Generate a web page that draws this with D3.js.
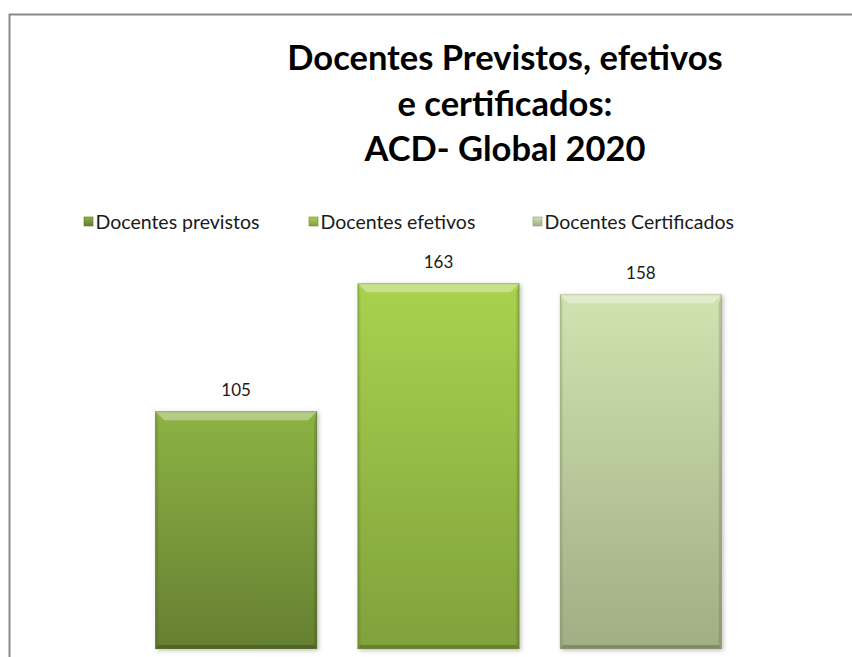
<!DOCTYPE html>
<meta charset="utf-8">
<style>
body { margin: 0; background: #fff; }
svg { display: block; }
.title { font-family: Lato, "Open Sans", sans-serif; font-weight: bold; font-size: 34.5px; fill: #000; }
.legend text { font-family: Lato, "Open Sans", sans-serif; font-size: 19.5px; fill: #1a1a1a; }
.label { font-family: Lato, "Open Sans", sans-serif; font-size: 17px; fill: #1a1a1a; }
</style>
<svg width="852" height="657"></svg>
<script src="https://cdn.jsdelivr.net/npm/d3@7"></script>
<script>

// chart data
var categories = ["Docentes previstos", "Docentes efetivos", "Docentes Certificados"];
var values = [105, 163, 158];
var titleLines = ["Docentes Previstos, efetivos", "e certificados:", "ACD- Global 2020"];

// gradient colours for each bar (top, bottom)
var palette = [
  {top: "#8db243", bottom: "#657f32", edge: "#5a762c"},
  {top: "#a9d24f", bottom: "#80a13c", edge: "#6f8c34"},
  {top: "#d1e3b0", bottom: "#a0ae84", edge: "#8e9b74"}
];

var svg = d3.select("svg"),
    width = +svg.attr("width"),
    height = +svg.attr("height");

// frame (only top and left edges show in the crop)
svg.append("path")
    .attr("d", "M9.5,657 L9.5,14.5 L852,14.5")
    .attr("fill", "none")
    .attr("stroke", "#898989")
    .attr("stroke-width", 2);

// title
svg.append("text")
    .attr("class", "title")
    .attr("text-anchor", "middle")
    .selectAll("tspan")
    .data(titleLines)
    .enter().append("tspan")
      .attr("x", 505)
      .attr("y", function(d, i) { return 70 + i * 45.5; })
      .text(function(d) { return d; });

var defs = svg.append("defs");

palette.forEach(function(p, i) {
  var g = defs.append("linearGradient")
      .attr("id", "grad" + i)
      .attr("x1", 0).attr("y1", 0).attr("x2", 0).attr("y2", 1);
  g.append("stop").attr("offset", "0%").attr("stop-color", p.top);
  g.append("stop").attr("offset", "100%").attr("stop-color", p.bottom);
});

var shadow = defs.append("filter").attr("id", "shadow")
    .attr("x", "-10%").attr("y", "-10%").attr("width", "130%").attr("height", "130%");
shadow.append("feDropShadow")
    .attr("dx", 1.5).attr("dy", 1.5)
    .attr("stdDeviation", 2)
    .attr("flood-color", "#000")
    .attr("flood-opacity", 0.25);

// scales
var x = d3.scaleBand()
    .domain(categories)
    .range([135, 742])
    .paddingInner(0.2)
    .paddingOuter(0.1);

var plotBottom = 649;
var y = d3.scaleLinear()
    .domain([0, 180])
    .range([643, 245.7]);

// legend
var legend = svg.append("g").attr("class", "legend");
var legendX = [84, 309, 533];
categories.forEach(function(c, i) {
  var item = legend.append("g").attr("transform", "translate(" + legendX[i] + ",217)");
  item.append("rect")
      .attr("width", 9).attr("height", 9)
      .attr("fill", "url(#grad" + i + ")")
      .attr("stroke", palette[i].edge)
      .attr("stroke-width", 0.6);
  item.append("text")
      .attr("x", 11.5)
      .attr("y", 11.5)
      .text(c);
});

// bars with a bevelled look
var bars = svg.append("g").selectAll("g")
    .data(categories)
    .enter().append("g")
      .attr("filter", "url(#shadow)");

bars.each(function(c, i) {
  var gbar = d3.select(this);
  var bx = x(c), bw = x.bandwidth(),
      by = y(values[i]), bh = plotBottom - by,
      b = 9, bb = 4, bs = 3;

  gbar.append("rect")
      .attr("x", bx).attr("y", by)
      .attr("width", bw).attr("height", bh)
      .attr("fill", "url(#grad" + i + ")");

  // top bevel
  gbar.append("path")
      .attr("d", "M" + bx + "," + by + "L" + (bx + bw) + "," + by +
                 "L" + (bx + bw - b) + "," + (by + b) + "L" + (bx + b) + "," + (by + b) + "Z")
      .attr("fill", "#ffffff").attr("fill-opacity", 0.35);
  gbar.append("line")
      .attr("x1", bx + 1).attr("x2", bx + bw - 1)
      .attr("y1", by + 0.5).attr("y2", by + 0.5)
      .attr("stroke", "#ffffff").attr("stroke-opacity", 0.3);

  // side bevels
  gbar.append("path")
      .attr("d", "M" + bx + "," + by + "L" + (bx + bs) + "," + (by + b) +
                 "L" + (bx + bs) + "," + (by + bh - bb) + "L" + bx + "," + (by + bh) + "Z")
      .attr("fill", "#000").attr("fill-opacity", 0.08);
  gbar.append("path")
      .attr("d", "M" + (bx + bw) + "," + by + "L" + (bx + bw - bs) + "," + (by + b) +
                 "L" + (bx + bw - bs) + "," + (by + bh - bb) + "L" + (bx + bw) + "," + (by + bh) + "Z")
      .attr("fill", "#000").attr("fill-opacity", 0.12);

  // bottom bevel
  gbar.append("path")
      .attr("d", "M" + bx + "," + (by + bh) + "L" + (bx + bw) + "," + (by + bh) +
                 "L" + (bx + bw - bs) + "," + (by + bh - bb) + "L" + (bx + bs) + "," + (by + bh - bb) + "Z")
      .attr("fill", "#000").attr("fill-opacity", 0.2);

  gbar.append("rect")
      .attr("x", bx + 0.5).attr("y", by + 0.5)
      .attr("width", bw - 1).attr("height", bh - 1)
      .attr("fill", "none")
      .attr("stroke", palette[i].edge)
      .attr("stroke-opacity", 0.5);
});

// value labels
svg.append("g").selectAll("text")
    .data(categories)
    .enter().append("text")
      .attr("class", "label")
      .attr("text-anchor", "middle")
      .attr("x", function(d) { return x(d) + x.bandwidth() / 2; })
      .attr("y", function(d, i) { return y(values[i]) - 15; })
      .text(function(d, i) { return values[i]; });

</script>
